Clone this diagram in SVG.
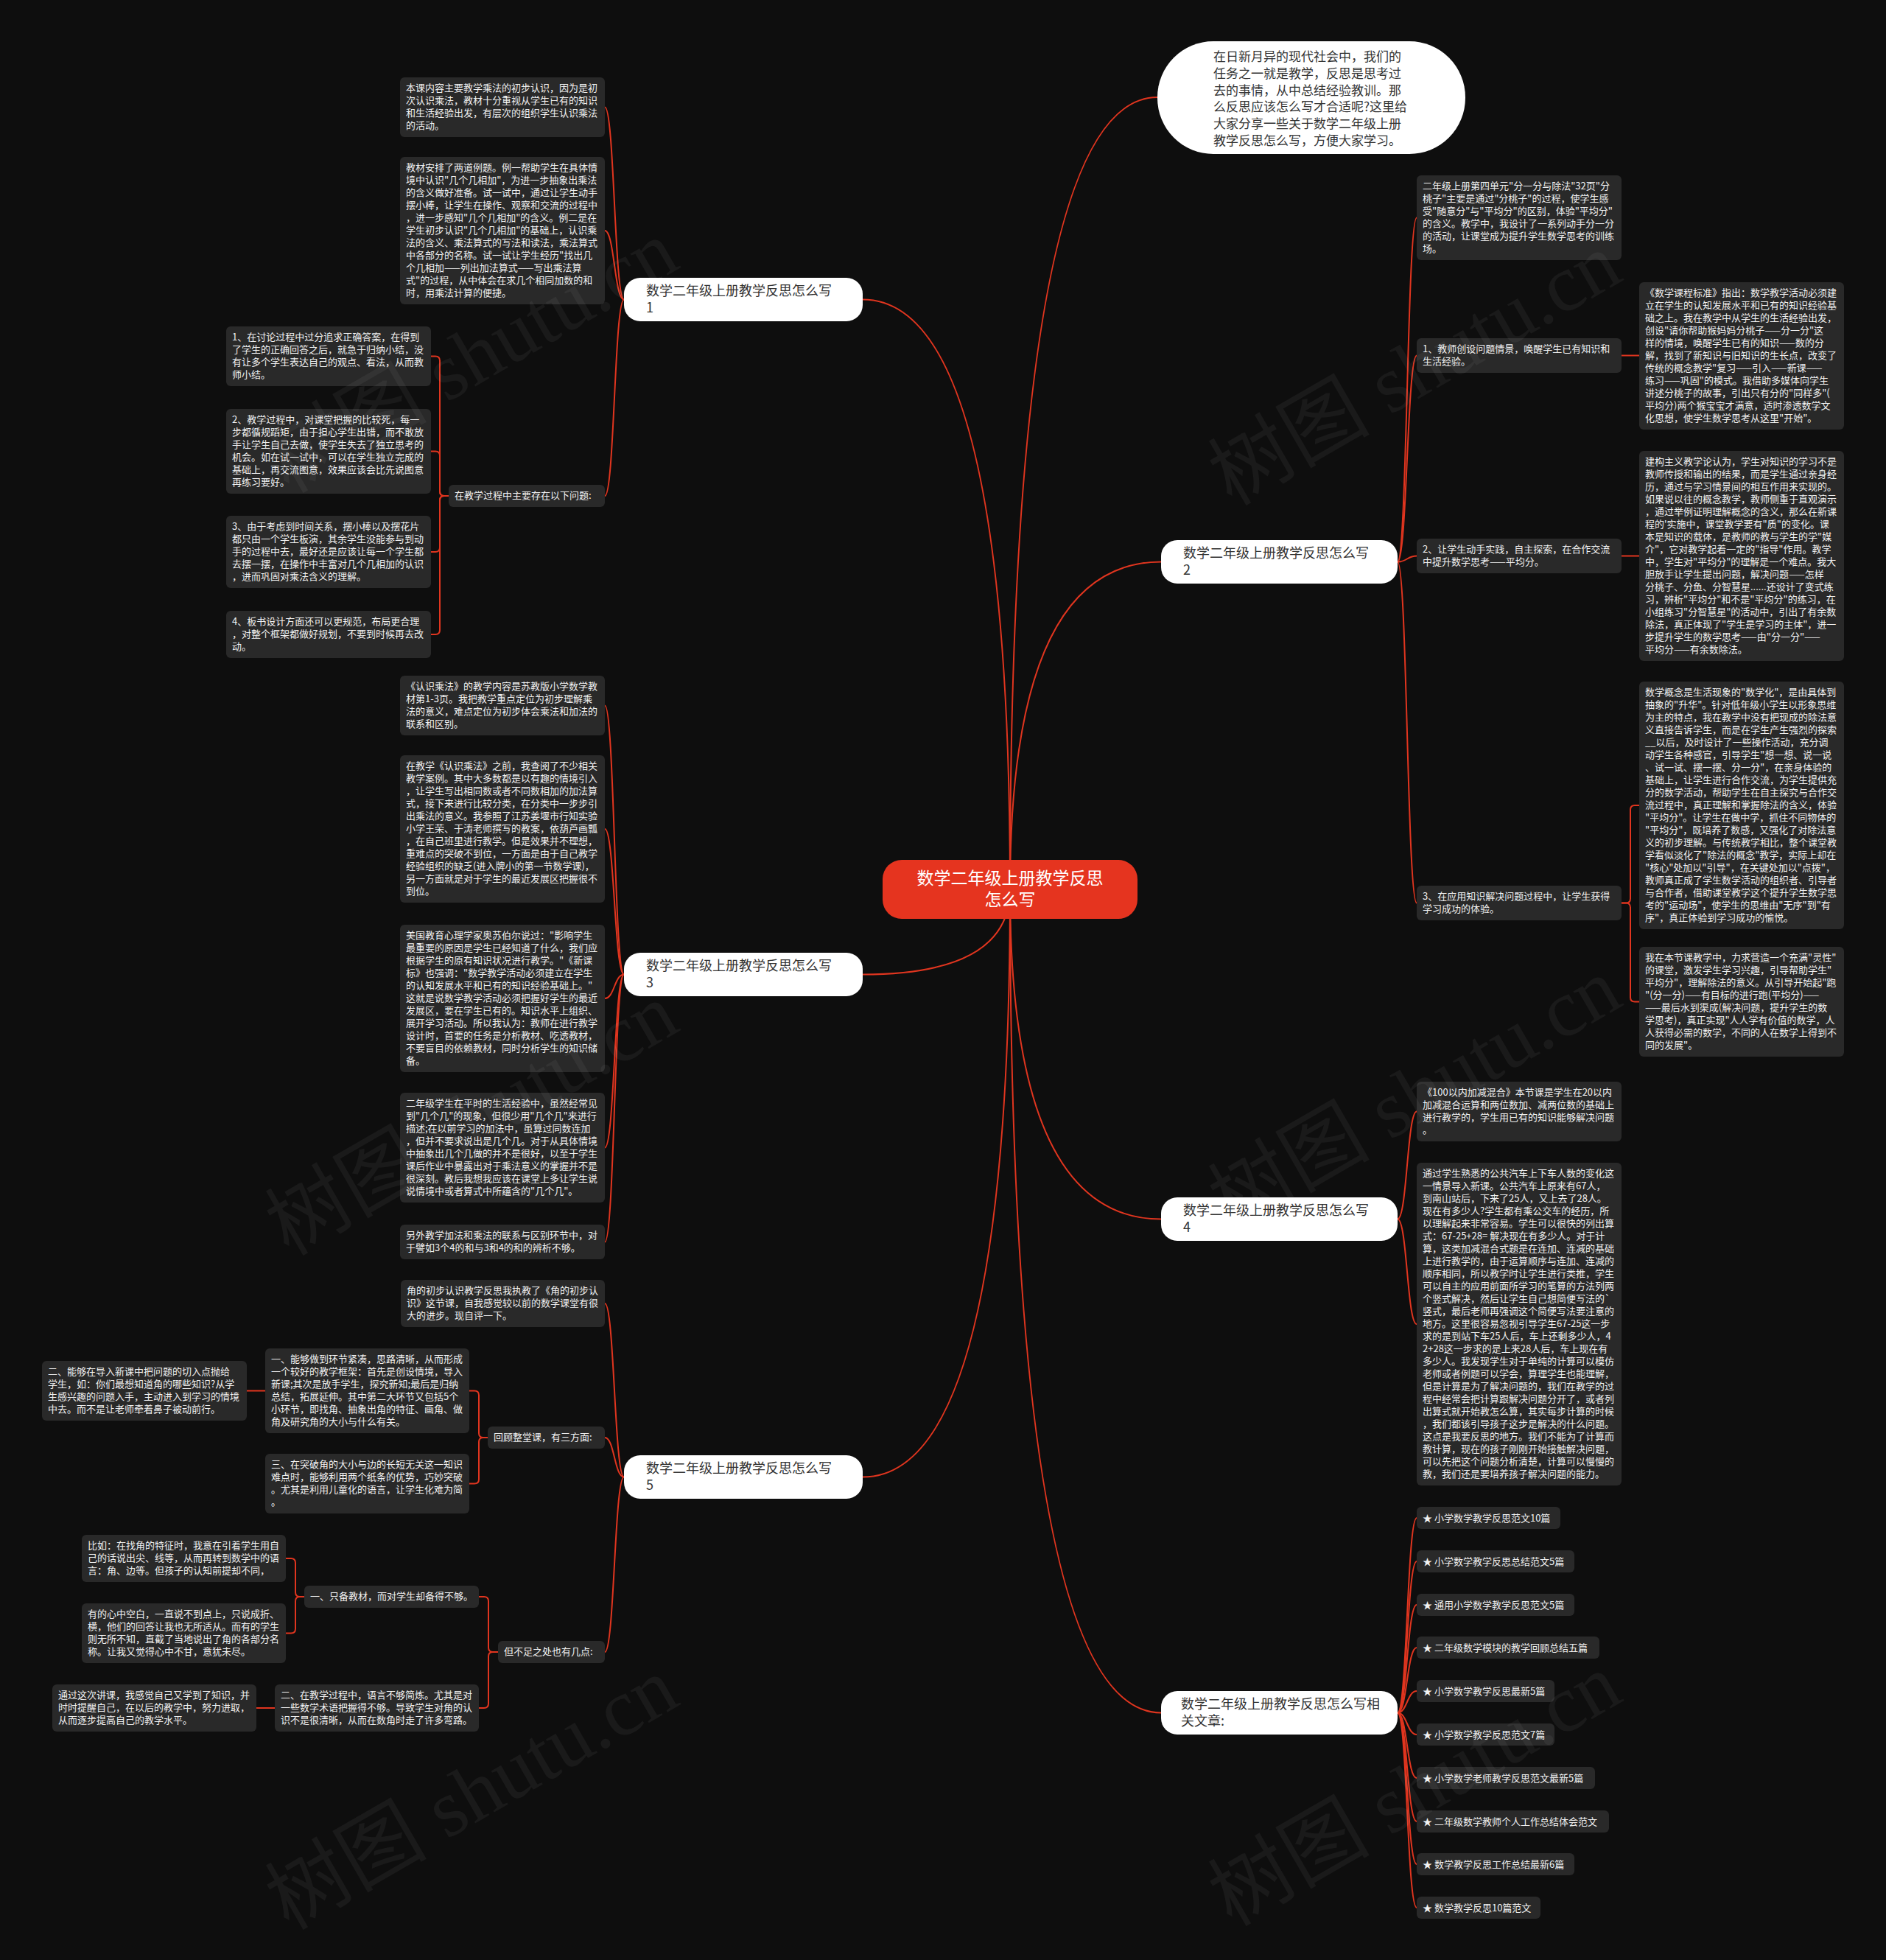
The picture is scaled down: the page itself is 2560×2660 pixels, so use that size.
<svg xmlns="http://www.w3.org/2000/svg" width="2560" height="2660" viewBox="0 0 2560 2660">
<style>
.bg{fill:#0e0e0e}
.box{fill:#292929}
.t{font-family:"Noto Sans CJK SC","Noto Sans",sans-serif;font-size:13px;fill:#f2f2f2}
.br{fill:#ffffff}
.bt{font-family:"Noto Sans CJK SC","Noto Sans",sans-serif;font-size:18px;fill:#333333}
.ct{font-family:"Noto Sans CJK SC","Noto Sans",sans-serif;font-size:23px;fill:#ffffff}
.it{font-family:"Noto Sans CJK SC","Noto Sans",sans-serif;font-size:17px;fill:#333333}
.lk{fill:none;stroke:#e0351f;stroke-width:2}
.wm{font-family:"Liberation Serif","Noto Sans CJK SC",serif;font-size:110px;fill:#ffffff;fill-opacity:0.05}
</style>
<rect class="bg" x="0" y="0" width="2560" height="2660"/>

<g id="connectors">
<path class="lk" d="M1371 1207 Q1371 132 1571 132"/>
<path class="lk" d="M1371 1207 Q1371 406.5 1171 406.5"/>
<path class="lk" d="M1371 1207 Q1371 762.5 1576 762.5"/>
<path class="lk" d="M1371 1207 Q1371 1322.5 1171 1322.5"/>
<path class="lk" d="M1371 1207 Q1371 1654.5 1576 1654.5"/>
<path class="lk" d="M1371 1207 Q1371 2004.5 1171 2004.5"/>
<path class="lk" d="M1371 1207 Q1371 2324.5 1576 2324.5"/>
<path class="lk" d="M847 406.5 C834 406.5 834 145.5 821 145.5"/>
<path class="lk" d="M847 406.5 C834 406.5 834 313 821 313"/>
<path class="lk" d="M847 406.5 C834 406.5 834 673 821 673"/>
<path class="lk" d="M609 673 H603 Q597 673 597 667 V489.5 Q597 483.5 591 483.5 H585"/>
<path class="lk" d="M609 673 H603 Q597 673 597 667 V618.5 Q597 612.5 591 612.5 H585"/>
<path class="lk" d="M609 673 H603 Q597 673 597 679 V743 Q597 749 591 749 H585"/>
<path class="lk" d="M609 673 H603 Q597 673 597 679 V855 Q597 861 591 861 H585"/>
<path class="lk" d="M847 1322.5 C834 1322.5 834 957.5 821 957.5"/>
<path class="lk" d="M847 1322.5 C834 1322.5 834 1125 821 1125"/>
<path class="lk" d="M847 1322.5 C834 1322.5 834 1355 821 1355"/>
<path class="lk" d="M847 1322.5 C834 1322.5 834 1557.5 821 1557.5"/>
<path class="lk" d="M847 1322.5 C834 1322.5 834 1685.5 821 1685.5"/>
<path class="lk" d="M847 2004.5 C834 2004.5 834 1769 821 1769"/>
<path class="lk" d="M847 2004.5 C834 2004.5 834 1951 821 1951"/>
<path class="lk" d="M847 2004.5 C834 2004.5 834 2242 821 2242"/>
<path class="lk" d="M662 1951 H656 Q650 1951 650 1945 V1893.5 Q650 1887.5 644 1887.5 H637"/>
<path class="lk" d="M662 1951 H656 Q650 1951 650 1957 V2007.5 Q650 2013.5 644 2013.5 H637"/>
<path class="lk" d="M360 1887.5 H335"/>
<path class="lk" d="M676 2242 H669 Q663 2242 663 2236 V2173 Q663 2167 657 2167 H650"/>
<path class="lk" d="M676 2242 H669 Q663 2242 663 2248 V2312 Q663 2318 657 2318 H650"/>
<path class="lk" d="M373 2318 H348"/>
<path class="lk" d="M413 2167 H407 Q401 2167 401 2161 V2121 Q401 2115 395 2115 H388"/>
<path class="lk" d="M413 2167 H407 Q401 2167 401 2173 V2210.5 Q401 2216.5 395 2216.5 H388"/>
<path class="lk" d="M1897 762.5 C1910 762.5 1910 295.5 1923 295.5"/>
<path class="lk" d="M1897 762.5 C1910 762.5 1910 482.5 1923 482.5"/>
<path class="lk" d="M1897 762.5 C1910 762.5 1910 754.5 1923 754.5"/>
<path class="lk" d="M1897 762.5 C1910 762.5 1910 1225.5 1923 1225.5"/>
<path class="lk" d="M2201 482.5 H2225"/>
<path class="lk" d="M2201 754.5 H2225"/>
<path class="lk" d="M2201 1225.5 H2207 Q2213 1225.5 2213 1219.5 V1099 Q2213 1093 2219 1093 H2225"/>
<path class="lk" d="M2201 1225.5 H2207 Q2213 1225.5 2213 1231.5 V1353.5 Q2213 1359.5 2219 1359.5 H2225"/>
<path class="lk" d="M1897 1654.5 C1910 1654.5 1910 1508.5 1923 1508.5"/>
<path class="lk" d="M1897 1654.5 C1910 1654.5 1910 1797 1923 1797"/>
<path class="lk" d="M1897 2324.5 C1910 2324.5 1910 2060 1923 2060"/>
<path class="lk" d="M1897 2324.5 C1910 2324.5 1910 2119 1923 2119"/>
<path class="lk" d="M1897 2324.5 C1910 2324.5 1910 2178 1923 2178"/>
<path class="lk" d="M1897 2324.5 C1910 2324.5 1910 2236 1923 2236"/>
<path class="lk" d="M1897 2324.5 C1910 2324.5 1910 2295 1923 2295"/>
<path class="lk" d="M1897 2324.5 C1910 2324.5 1910 2354 1923 2354"/>
<path class="lk" d="M1897 2324.5 C1910 2324.5 1910 2413 1923 2413"/>
<path class="lk" d="M1897 2324.5 C1910 2324.5 1910 2472 1923 2472"/>
<path class="lk" d="M1897 2324.5 C1910 2324.5 1910 2530 1923 2530"/>
<path class="lk" d="M1897 2324.5 C1910 2324.5 1910 2589 1923 2589"/>
</g>

<g id="center">
<rect x="1198" y="1167" width="346" height="80" rx="26" fill="#e5341f"/>
<text class="ct" x="1371" y="1200" text-anchor="middle">数学二年级上册教学反思</text>
<text class="ct" x="1371" y="1229" text-anchor="middle">怎么写</text>
</g>

<g id="intro">
<rect class="br" x="1571" y="56" width="418" height="153" rx="76"/>
<text class="it" x="1647" y="83"><tspan x="1647" dy="0">在日新月异的现代社会中，我们的</tspan><tspan x="1647" dy="22.8">任务之一就是教学，反思是思考过</tspan><tspan x="1647" dy="22.8">去的事情，从中总结经验教训。那</tspan><tspan x="1647" dy="22.8">么反思应该怎么写才合适呢?这里给</tspan><tspan x="1647" dy="22.8">大家分享一些关于数学二年级上册</tspan><tspan x="1647" dy="22.8">教学反思怎么写，方便大家学习。</tspan></text>
</g>

<g id="b1">
<rect class="br" x="847" y="377" width="324" height="59" rx="22"/>
<text class="bt" x="877" y="401"><tspan x="877" dy="0">数学二年级上册教学反思怎么写</tspan><tspan x="877" dy="23">1</tspan></text>
</g>
<g id="b2">
<rect class="br" x="1576" y="733" width="321" height="59" rx="22"/>
<text class="bt" x="1606" y="757"><tspan x="1606" dy="0">数学二年级上册教学反思怎么写</tspan><tspan x="1606" dy="23">2</tspan></text>
</g>
<g id="b3">
<rect class="br" x="847" y="1293" width="324" height="59" rx="22"/>
<text class="bt" x="877" y="1317"><tspan x="877" dy="0">数学二年级上册教学反思怎么写</tspan><tspan x="877" dy="23">3</tspan></text>
</g>
<g id="b4">
<rect class="br" x="1576" y="1625" width="321" height="59" rx="22"/>
<text class="bt" x="1606" y="1649"><tspan x="1606" dy="0">数学二年级上册教学反思怎么写</tspan><tspan x="1606" dy="23">4</tspan></text>
</g>
<g id="b5">
<rect class="br" x="847" y="1975" width="324" height="59" rx="22"/>
<text class="bt" x="877" y="1999"><tspan x="877" dy="0">数学二年级上册教学反思怎么写</tspan><tspan x="877" dy="23">5</tspan></text>
</g>
<g id="b6">
<rect class="br" x="1576" y="2295" width="321" height="59" rx="22"/>
<text class="bt" x="1603" y="2319"><tspan x="1603" dy="0">数学二年级上册教学反思怎么写相</tspan><tspan x="1603" dy="23">关文章:</tspan></text>
</g>

<g id="n1a">
<rect class="box" x="543" y="105" width="278" height="81" rx="6"/>
<text class="t" x="551" y="124"><tspan x="551" dy="0">本课内容主要教学乘法的初步认识，因为是初</tspan><tspan x="551" dy="17">次认识乘法，教材十分重视从学生已有的知识</tspan><tspan x="551" dy="17">和生活经验出发，有层次的组织学生认识乘法</tspan><tspan x="551" dy="17">的活动。</tspan></text>
</g>
<g id="n1b">
<rect class="box" x="543" y="213" width="278" height="200" rx="6"/>
<text class="t" x="551" y="232"><tspan x="551" dy="0">教材安排了两道例题。例一帮助学生在具体情</tspan><tspan x="551" dy="17">境中认识"几个几相加"，为进一步抽象出乘法</tspan><tspan x="551" dy="17">的含义做好准备。试一试中，通过让学生动手</tspan><tspan x="551" dy="17">摆小棒，让学生在操作、观察和交流的过程中</tspan><tspan x="551" dy="17">，进一步感知"几个几相加"的含义。例二是在</tspan><tspan x="551" dy="17">学生初步认识"几个几相加"的基础上，认识乘</tspan><tspan x="551" dy="17">法的含义、乘法算式的写法和读法，乘法算式</tspan><tspan x="551" dy="17">中各部分的名称。试一试让学生经历"找出几</tspan><tspan x="551" dy="17">个几相加——列出加法算式——写出乘法算</tspan><tspan x="551" dy="17">式"的过程，从中体会在求几个相同加数的和</tspan><tspan x="551" dy="17">时，用乘法计算的便捷。</tspan></text>
</g>
<g id="n1c">
<rect class="box" x="609" y="658" width="212" height="30" rx="6"/>
<text class="t" x="617" y="677">在教学过程中主要存在以下问题:</text>
</g>
<g id="n1c1">
<rect class="box" x="307" y="443" width="278" height="81" rx="6"/>
<text class="t" x="315" y="462"><tspan x="315" dy="0">1、在讨论过程中过分追求正确答案，在得到</tspan><tspan x="315" dy="17">了学生的正确回答之后，就急于归纳小结，没</tspan><tspan x="315" dy="17">有让多个学生表达自己的观点、看法，从而教</tspan><tspan x="315" dy="17">师小结。</tspan></text>
</g>
<g id="n1c2">
<rect class="box" x="307" y="555" width="278" height="115" rx="6"/>
<text class="t" x="315" y="574"><tspan x="315" dy="0">2、教学过程中，对课堂把握的比较死，每一</tspan><tspan x="315" dy="17">步都循规蹈矩，由于担心学生出错，而不敢放</tspan><tspan x="315" dy="17">手让学生自己去做，使学生失去了独立思考的</tspan><tspan x="315" dy="17">机会。如在试一试中，可以在学生独立完成的</tspan><tspan x="315" dy="17">基础上，再交流图意，效果应该会比先说图意</tspan><tspan x="315" dy="17">再练习要好。</tspan></text>
</g>
<g id="n1c3">
<rect class="box" x="307" y="700" width="278" height="98" rx="6"/>
<text class="t" x="315" y="719"><tspan x="315" dy="0">3、由于考虑到时间关系，摆小棒以及摆花片</tspan><tspan x="315" dy="17">都只由一个学生板演，其余学生没能参与到动</tspan><tspan x="315" dy="17">手的过程中去，最好还是应该让每一个学生都</tspan><tspan x="315" dy="17">去摆一摆，在操作中丰富对几个几相加的认识</tspan><tspan x="315" dy="17">，进而巩固对乘法含义的理解。</tspan></text>
</g>
<g id="n1c4">
<rect class="box" x="307" y="829" width="278" height="64" rx="6"/>
<text class="t" x="315" y="848"><tspan x="315" dy="0">4、板书设计方面还可以更规范，布局更合理</tspan><tspan x="315" dy="17">，对整个框架都做好规划，不要到时候再去改</tspan><tspan x="315" dy="17">动。</tspan></text>
</g>

<g id="n3a">
<rect class="box" x="543" y="917" width="278" height="81" rx="6"/>
<text class="t" x="551" y="936"><tspan x="551" dy="0">《认识乘法》的教学内容是苏教版小学数学教</tspan><tspan x="551" dy="17">材第1-3页。我把教学重点定位为初步理解乘</tspan><tspan x="551" dy="17">法的意义，难点定位为初步体会乘法和加法的</tspan><tspan x="551" dy="17">联系和区别。</tspan></text>
</g>
<g id="n3b">
<rect class="box" x="543" y="1025" width="278" height="200" rx="6"/>
<text class="t" x="551" y="1044"><tspan x="551" dy="0">在教学《认识乘法》之前，我查阅了不少相关</tspan><tspan x="551" dy="17">教学案例。其中大多数都是以有趣的情境引入</tspan><tspan x="551" dy="17">，让学生写出相同数或者不同数相加的加法算</tspan><tspan x="551" dy="17">式，接下来进行比较分类，在分类中一步步引</tspan><tspan x="551" dy="17">出乘法的意义。我参照了江苏姜堰市行知实验</tspan><tspan x="551" dy="17">小学王荣、于涛老师撰写的教案，依葫芦画瓢</tspan><tspan x="551" dy="17">，在自己班里进行教学。但是效果并不理想，</tspan><tspan x="551" dy="17">重难点的突破不到位，一方面是由于自己教学</tspan><tspan x="551" dy="17">经验组织的缺乏(进入牌小的第一节数学课)，</tspan><tspan x="551" dy="17">另一方面就是对于学生的最近发展区把握很不</tspan><tspan x="551" dy="17">到位。</tspan></text>
</g>
<g id="n3c">
<rect class="box" x="543" y="1255" width="278" height="200" rx="6"/>
<text class="t" x="551" y="1274"><tspan x="551" dy="0">美国教育心理学家奥苏伯尔说过："影响学生</tspan><tspan x="551" dy="17">最重要的原因是学生已经知道了什么，我们应</tspan><tspan x="551" dy="17">根据学生的原有知识状况进行教学。"《新课</tspan><tspan x="551" dy="17">标》也强调："数学教学活动必须建立在学生</tspan><tspan x="551" dy="17">的认知发展水平和已有的知识经验基础上。"</tspan><tspan x="551" dy="17">这就是说数学教学活动必须把握好学生的最近</tspan><tspan x="551" dy="17">发展区，要在学生已有的。知识水平上组织、</tspan><tspan x="551" dy="17">展开学习活动。所以我认为：教师在进行教学</tspan><tspan x="551" dy="17">设计时，首要的任务是分析教材、吃透教材，</tspan><tspan x="551" dy="17">不要盲目的依赖教材，同时分析学生的知识储</tspan><tspan x="551" dy="17">备。</tspan></text>
</g>
<g id="n3d">
<rect class="box" x="543" y="1483" width="278" height="149" rx="6"/>
<text class="t" x="551" y="1502"><tspan x="551" dy="0">二年级学生在平时的生活经验中，虽然经常见</tspan><tspan x="551" dy="17">到"几个几"的现象，但很少用"几个几"来进行</tspan><tspan x="551" dy="17">描述;在以前学习的加法中，虽算过同数连加</tspan><tspan x="551" dy="17">，但并不要求说出是几个几。对于从具体情境</tspan><tspan x="551" dy="17">中抽象出几个几做的并不是很好，以至于学生</tspan><tspan x="551" dy="17">课后作业中暴露出对于乘法意义的掌握并不是</tspan><tspan x="551" dy="17">很深刻。教后我想我应该在课堂上多让学生说</tspan><tspan x="551" dy="17">说情境中或者算式中所蕴含的"几个几"。</tspan></text>
</g>
<g id="n3e">
<rect class="box" x="543" y="1662" width="278" height="47" rx="6"/>
<text class="t" x="551" y="1681"><tspan x="551" dy="0">另外教学加法和乘法的联系与区别环节中，对</tspan><tspan x="551" dy="17">于譬如3个4的和与3和4的和的辨析不够。</tspan></text>
</g>

<g id="n5a">
<rect class="box" x="544" y="1737" width="277" height="64" rx="6"/>
<text class="t" x="552" y="1756"><tspan x="552" dy="0">角的初步认识教学反思我执教了《角的初步认</tspan><tspan x="552" dy="17">识》这节课，自我感觉较以前的数学课堂有很</tspan><tspan x="552" dy="17">大的进步。现自评一下。</tspan></text>
</g>
<g id="n5b">
<rect class="box" x="662" y="1936" width="159" height="30" rx="6"/>
<text class="t" x="670" y="1955">回顾整堂课，有三方面:</text>
</g>
<g id="n5b1">
<rect class="box" x="360" y="1830" width="277" height="115" rx="6"/>
<text class="t" x="368" y="1849"><tspan x="368" dy="0">一、能够做到环节紧凑，思路清晰，从而形成</tspan><tspan x="368" dy="17">一个较好的教学框架：首先是创设情境，导入</tspan><tspan x="368" dy="17">新课;其次是放手学生，探究新知;最后是归纳</tspan><tspan x="368" dy="17">总结，拓展延伸。其中第二大环节又包括5个</tspan><tspan x="368" dy="17">小环节，即找角、抽象出角的特征、画角、做</tspan><tspan x="368" dy="17">角及研究角的大小与什么有关。</tspan></text>
</g>
<g id="n5b1a">
<rect class="box" x="57" y="1847" width="278" height="81" rx="6"/>
<text class="t" x="65" y="1866"><tspan x="65" dy="0">二、能够在导入新课中把问题的切入点抛给</tspan><tspan x="65" dy="17">学生，如：你们最想知道角的哪些知识?从学</tspan><tspan x="65" dy="17">生感兴趣的问题入手，主动进入到学习的情境</tspan><tspan x="65" dy="17">中去。而不是让老师牵着鼻子被动前行。</tspan></text>
</g>
<g id="n5b2">
<rect class="box" x="360" y="1973" width="277" height="81" rx="6"/>
<text class="t" x="368" y="1992"><tspan x="368" dy="0">三、在突破角的大小与边的长短无关这一知识</tspan><tspan x="368" dy="17">难点时，能够利用两个纸条的优势，巧妙突破</tspan><tspan x="368" dy="17">。尤其是利用儿童化的语言，让学生化难为简</tspan><tspan x="368" dy="17">。</tspan></text>
</g>
<g id="n5c">
<rect class="box" x="676" y="2227" width="145" height="30" rx="6"/>
<text class="t" x="684" y="2246">但不足之处也有几点:</text>
</g>
<g id="n5c1">
<rect class="box" x="413" y="2152" width="237" height="30" rx="6"/>
<text class="t" x="421" y="2171">一、只备教材，而对学生却备得不够。</text>
</g>
<g id="n5c1a">
<rect class="box" x="111" y="2083" width="277" height="64" rx="6"/>
<text class="t" x="119" y="2102"><tspan x="119" dy="0">比如：在找角的特征时，我意在引着学生用自</tspan><tspan x="119" dy="17">己的话说出尖、线等，从而再转到数学中的语</tspan><tspan x="119" dy="17">言：角、边等。但孩子的认知前提却不同，</tspan></text>
</g>
<g id="n5c1b">
<rect class="box" x="111" y="2176" width="277" height="81" rx="6"/>
<text class="t" x="119" y="2195"><tspan x="119" dy="0">有的心中空白，一直说不到点上，只说成折、</tspan><tspan x="119" dy="17">横，他们的回答让我也无所适从。而有的学生</tspan><tspan x="119" dy="17">则无所不知，直截了当地说出了角的各部分名</tspan><tspan x="119" dy="17">称。让我又觉得心中不甘，意犹未尽。</tspan></text>
</g>
<g id="n5c2">
<rect class="box" x="373" y="2286" width="277" height="64" rx="6"/>
<text class="t" x="381" y="2305"><tspan x="381" dy="0">二、在教学过程中，语言不够简炼。尤其是对</tspan><tspan x="381" dy="17">一些数学术语把握得不够。导致学生对角的认</tspan><tspan x="381" dy="17">识不是很清晰，从而在数角时走了许多弯路。</tspan></text>
</g>
<g id="n5c2a">
<rect class="box" x="71" y="2286" width="277" height="64" rx="6"/>
<text class="t" x="79" y="2305"><tspan x="79" dy="0">通过这次讲课，我感觉自己又学到了知识，并</tspan><tspan x="79" dy="17">时时提醒自己，在以后的教学中，努力进取，</tspan><tspan x="79" dy="17">从而逐步提高自己的教学水平。</tspan></text>
</g>

<g id="n2a">
<rect class="box" x="1923" y="238" width="278" height="115" rx="6"/>
<text class="t" x="1931" y="257"><tspan x="1931" dy="0">二年级上册第四单元"分一分与除法"32页"分</tspan><tspan x="1931" dy="17">桃子"主要是通过"分桃子"的过程，使学生感</tspan><tspan x="1931" dy="17">受"随意分"与"平均分"的区别，体验"平均分"</tspan><tspan x="1931" dy="17">的含义。教学中，我设计了一系列动手分一分</tspan><tspan x="1931" dy="17">的活动，让课堂成为提升学生数学思考的训练</tspan><tspan x="1931" dy="17">场。</tspan></text>
</g>
<g id="n2b">
<rect class="box" x="1923" y="459" width="278" height="47" rx="6"/>
<text class="t" x="1931" y="478"><tspan x="1931" dy="0">1、教师创设问题情景，唤醒学生已有知识和</tspan><tspan x="1931" dy="17">生活经验。</tspan></text>
</g>
<g id="n2b1">
<rect class="box" x="2225" y="383" width="278" height="200" rx="6"/>
<text class="t" x="2233" y="402"><tspan x="2233" dy="0">《数学课程标准》指出：数学教学活动必须建</tspan><tspan x="2233" dy="17">立在学生的认知发展水平和已有的知识经验基</tspan><tspan x="2233" dy="17">础之上。我在教学中从学生的生活经验出发，</tspan><tspan x="2233" dy="17">创设"请你帮助猴妈妈分桃子——分一分"这</tspan><tspan x="2233" dy="17">样的情境，唤醒学生已有的知识——数的分</tspan><tspan x="2233" dy="17">解，找到了新知识与旧知识的生长点，改变了</tspan><tspan x="2233" dy="17">传统的概念教学"复习——引入——新课——</tspan><tspan x="2233" dy="17">练习——巩固"的模式。我借助多媒体向学生</tspan><tspan x="2233" dy="17">讲述分桃子的故事，引出只有分的"同样多"(</tspan><tspan x="2233" dy="17">平均分)两个猴宝宝才满意，适时渗透数学文</tspan><tspan x="2233" dy="17">化思想，使学生数学思考从这里"开始"。</tspan></text>
</g>
<g id="n2c">
<rect class="box" x="1923" y="731" width="278" height="47" rx="6"/>
<text class="t" x="1931" y="750"><tspan x="1931" dy="0">2、让学生动手实践，自主探索，在合作交流</tspan><tspan x="1931" dy="17">中提升数学思考——平均分。</tspan></text>
</g>
<g id="n2c1">
<rect class="box" x="2225" y="612" width="278" height="285" rx="6"/>
<text class="t" x="2233" y="631"><tspan x="2233" dy="0">建构主义教学论认为，学生对知识的学习不是</tspan><tspan x="2233" dy="17">教师传授和输出的结果，而是学生通过亲身经</tspan><tspan x="2233" dy="17">历，通过与学习情景间的相互作用来实现的。</tspan><tspan x="2233" dy="17">如果说以往的概念教学，教师侧重于直观演示</tspan><tspan x="2233" dy="17">，通过举例证明理解概念的含义，那么在新课</tspan><tspan x="2233" dy="17">程的'实施中，课堂教学要有"质"的变化。课</tspan><tspan x="2233" dy="17">本是知识的载体，是教师的教与学生的学"媒</tspan><tspan x="2233" dy="17">介"，它对教学起着一定的"指导"作用。教学</tspan><tspan x="2233" dy="17">中，学生对"平均分"的理解是一个难点。我大</tspan><tspan x="2233" dy="17">胆放手让学生提出问题，解决问题——怎样</tspan><tspan x="2233" dy="17">分桃子、分鱼、分智慧星......还设计了变式练</tspan><tspan x="2233" dy="17">习，辨析"平均分"和不是"平均分"的练习，在</tspan><tspan x="2233" dy="17">小组练习"分智慧星"的活动中，引出了有余数</tspan><tspan x="2233" dy="17">除法，真正体现了"学生是学习的主体"，进一</tspan><tspan x="2233" dy="17">步提升学生的数学思考——由"分一分"——</tspan><tspan x="2233" dy="17">平均分——有余数除法。</tspan></text>
</g>
<g id="n2d">
<rect class="box" x="1923" y="1202" width="278" height="47" rx="6"/>
<text class="t" x="1931" y="1221"><tspan x="1931" dy="0">3、在应用知识解决问题过程中，让学生获得</tspan><tspan x="1931" dy="17">学习成功的体验。</tspan></text>
</g>
<g id="n2d1">
<rect class="box" x="2225" y="925" width="278" height="336" rx="6"/>
<text class="t" x="2233" y="944"><tspan x="2233" dy="0">数学概念是生活现象的"数学化"，是由具体到</tspan><tspan x="2233" dy="17">抽象的"升华"。针对低年级小学生以形象思维</tspan><tspan x="2233" dy="17">为主的特点，我在教学中没有把现成的除法意</tspan><tspan x="2233" dy="17">义直接告诉学生，而是在学生产生强烈的探索</tspan><tspan x="2233" dy="17">__以后，及时设计了一些操作活动，充分调</tspan><tspan x="2233" dy="17">动学生各种感官，引导学生"想一想、说一说</tspan><tspan x="2233" dy="17">、试一试、摆一摆、分一分"，在亲身体验的</tspan><tspan x="2233" dy="17">基础上，让学生进行合作交流，为学生提供充</tspan><tspan x="2233" dy="17">分的数学活动，帮助学生在自主探究与合作交</tspan><tspan x="2233" dy="17">流过程中，真正理解和掌握除法的含义，体验</tspan><tspan x="2233" dy="17">"平均分"。让学生在做中学，抓住不同物体的</tspan><tspan x="2233" dy="17">"平均分"，既培养了数感，又强化了对除法意</tspan><tspan x="2233" dy="17">义的初步理解。与传统教学相比，整个课堂教</tspan><tspan x="2233" dy="17">学看似淡化了"除法的概念"教学，实际上却在</tspan><tspan x="2233" dy="17">"核心"处加以"引导"，在关键处加以"点拨"，</tspan><tspan x="2233" dy="17">教师真正成了学生数学活动的组织者、引导者</tspan><tspan x="2233" dy="17">与合作者，借助课堂教学这个提升学生数学思</tspan><tspan x="2233" dy="17">考的"运动场"，使学生的思维由"无序"到"有</tspan><tspan x="2233" dy="17">序"，真正体验到学习成功的愉悦。</tspan></text>
</g>
<g id="n2d2">
<rect class="box" x="2225" y="1285" width="278" height="149" rx="6"/>
<text class="t" x="2233" y="1304"><tspan x="2233" dy="0">我在本节课教学中，力求营造一个充满"灵性"</tspan><tspan x="2233" dy="17">的课堂，激发学生学习兴趣，引导帮助学生"</tspan><tspan x="2233" dy="17">平均分"，理解除法的意义。从引导开始起"跑</tspan><tspan x="2233" dy="17">"(分一分)——有目标的进行跑(平均分)——</tspan><tspan x="2233" dy="17">——最后水到渠成(解决问题，提升学生的数</tspan><tspan x="2233" dy="17">学思考)，真正实现"人人学有价值的数学，人</tspan><tspan x="2233" dy="17">人获得必需的数学，不同的人在数学上得到不</tspan><tspan x="2233" dy="17">同的发展"。</tspan></text>
</g>

<g id="n4a">
<rect class="box" x="1923" y="1468" width="278" height="81" rx="6"/>
<text class="t" x="1931" y="1487"><tspan x="1931" dy="0">《100以内加减混合》本节课是学生在20以内</tspan><tspan x="1931" dy="17">加减混合运算和两位数加、减两位数的基础上</tspan><tspan x="1931" dy="17">进行教学的，学生用已有的知识能够解决问题</tspan><tspan x="1931" dy="17">。</tspan></text>
</g>
<g id="n4b">
<rect class="box" x="1923" y="1578" width="278" height="438" rx="6"/>
<text class="t" x="1931" y="1597"><tspan x="1931" dy="0">通过学生熟悉的公共汽车上下车人数的变化这</tspan><tspan x="1931" dy="17">一情景导入新课。公共汽车上原来有67人，</tspan><tspan x="1931" dy="17">到南山站后，下来了25人，又上去了28人。</tspan><tspan x="1931" dy="17">现在有多少人?学生都有乘公交车的经历，所</tspan><tspan x="1931" dy="17">以理解起来非常容易。学生可以很快的列出算</tspan><tspan x="1931" dy="17">式：67-25+28= 解决现在有多少人。对于计</tspan><tspan x="1931" dy="17">算，这类加减混合式题是在连加、连减的基础</tspan><tspan x="1931" dy="17">上进行教学的，由于运算顺序与连加、连减的</tspan><tspan x="1931" dy="17">顺序相同，所以教学时让学生进行类推，学生</tspan><tspan x="1931" dy="17">可以自主的应用前面所学习的笔算的方法列两</tspan><tspan x="1931" dy="17">个竖式解决，然后让学生自己想简便写法的`</tspan><tspan x="1931" dy="17">竖式，最后老师再强调这个简便写法要注意的</tspan><tspan x="1931" dy="17">地方。这里很容易忽视引导学生67-25这一步</tspan><tspan x="1931" dy="17">求的是到站下车25人后，车上还剩多少人，4</tspan><tspan x="1931" dy="17">2+28这一步求的是上来28人后，车上现在有</tspan><tspan x="1931" dy="17">多少人。我发现学生对于单纯的计算可以模仿</tspan><tspan x="1931" dy="17">老师或者例题可以学会，算理学生也能理解，</tspan><tspan x="1931" dy="17">但是计算是为了解决问题的，我们在教学的过</tspan><tspan x="1931" dy="17">程中经常会把计算跟解决问题分开了，或者列</tspan><tspan x="1931" dy="17">出算式就开始教怎么算，其实每步计算的时候</tspan><tspan x="1931" dy="17">，我们都该引导孩子这步是解决的什么问题。</tspan><tspan x="1931" dy="17">这点是我要反思的地方。我们不能为了计算而</tspan><tspan x="1931" dy="17">教计算，现在的孩子刚刚开始接触解决问题，</tspan><tspan x="1931" dy="17">可以先把这个问题分析清楚，计算可以慢慢的</tspan><tspan x="1931" dy="17">教，我们还是要培养孩子解决问题的能力。</tspan></text>
</g>

<g id="n6a"><rect class="box" x="1923" y="2045" width="195" height="30" rx="6"/><text class="t" x="1931" y="2064.5">★ 小学数学教学反思范文10篇</text></g>
<g id="n6b"><rect class="box" x="1923" y="2104" width="214" height="30" rx="6"/><text class="t" x="1931" y="2123.5">★ 小学数学教学反思总结范文5篇</text></g>
<g id="n6c"><rect class="box" x="1923" y="2163" width="214" height="30" rx="6"/><text class="t" x="1931" y="2182.5">★ 通用小学数学教学反思范文5篇</text></g>
<g id="n6d"><rect class="box" x="1923" y="2221" width="248" height="30" rx="6"/><text class="t" x="1931" y="2240.5">★ 二年级数学模块的教学回顾总结五篇</text></g>
<g id="n6e"><rect class="box" x="1923" y="2280" width="187" height="30" rx="6"/><text class="t" x="1931" y="2299.5">★ 小学数学教学反思最新5篇</text></g>
<g id="n6f"><rect class="box" x="1923" y="2339" width="187" height="30" rx="6"/><text class="t" x="1931" y="2358.5">★ 小学数学教学反思范文7篇</text></g>
<g id="n6g"><rect class="box" x="1923" y="2398" width="242" height="30" rx="6"/><text class="t" x="1931" y="2417.5">★ 小学数学老师教学反思范文最新5篇</text></g>
<g id="n6h"><rect class="box" x="1923" y="2457" width="261" height="30" rx="6"/><text class="t" x="1931" y="2476.5">★ 二年级数学教师个人工作总结体会范文</text></g>
<g id="n6i"><rect class="box" x="1923" y="2515" width="214" height="30" rx="6"/><text class="t" x="1931" y="2534.5">★ 数学教学反思工作总结最新6篇</text></g>
<g id="n6j"><rect class="box" x="1923" y="2574" width="168" height="30" rx="6"/><text class="t" x="1931" y="2593.5">★ 数学教学反思10篇范文</text></g>

<g id="watermarks">
<text class="wm" x="645" y="520" text-anchor="middle" transform="rotate(-30 645 492)">树图 shutu.cn</text>
<text class="wm" x="1925" y="537" text-anchor="middle" transform="rotate(-30 1925 509)">树图 shutu.cn</text>
<text class="wm" x="645" y="1555" text-anchor="middle" transform="rotate(-30 645 1527)">树图 shutu.cn</text>
<text class="wm" x="1925" y="1521" text-anchor="middle" transform="rotate(-30 1925 1493)">树图 shutu.cn</text>
<text class="wm" x="645" y="2470" text-anchor="middle" transform="rotate(-30 645 2442)">树图 shutu.cn</text>
<text class="wm" x="1925" y="2465" text-anchor="middle" transform="rotate(-30 1925 2437)">树图 shutu.cn</text>
</g>
</svg>
